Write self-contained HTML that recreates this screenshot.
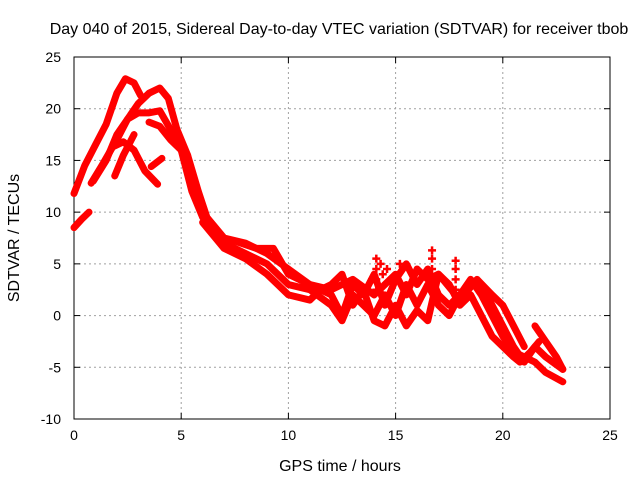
<!DOCTYPE html>
<html><head><meta charset="utf-8"><style>
body{margin:0;background:#fff}
svg{display:block;font-family:"Liberation Sans",sans-serif}
</style></head><body>
<svg id="chart" width="640" height="480">
<rect width="640" height="480" fill="#fff"/>
<g id="grid"></g><g id="axes"></g><g id="series"></g>
<text x="339" y="34" font-size="16" text-anchor="middle">Day 040 of 2015, Sidereal Day-to-day VTEC variation (SDTVAR) for receiver tbob</text>
<text x="340" y="471" font-size="16" text-anchor="middle">GPS time / hours</text>
<text x="19" y="238" font-size="16" text-anchor="middle" transform="rotate(-90 19 238)">SDTVAR / TECUs</text>
</svg>
<script>
const xTicks=[0,5,10,15,20,25];
const yTicks=[-10,-5,0,5,10,15,20,25];
const traceA=[[0,11.8],[0.5,14.5],[1,16.5],[1.5,18.5],[2,21.5],[2.4,22.9],[2.8,22.5],[3.1,21.3]];
const traceB=[[0.9,13],[1.5,15],[2,17.5],[2.5,19],[3,20.5],[3.5,21.5],[4,22],[4.4,21],[4.8,18],[5.3,15.5]];
const traceC=[[2,17],[2.5,19],[3,19.6],[3.5,19.6],[4,19.8],[4.5,18],[5,16],[5.5,12],[6,9.5]];
const traceD=[[0.8,12.8],[1.3,14.5],[1.8,16.3],[2.3,16.8],[2.8,16],[3.3,14],[3.9,12.7]];
const traceE=[[1.9,13.5],[2.3,15.5],[2.8,17.5]];
const traceF=[[0,8.5],[0.35,9.3],[0.7,10]];
const traceG=[[3.5,18.7],[4,18.3],[4.5,17],[5,16]];
const traceH=[[3.6,14.4],[4.1,15.2]];
const train1=[[5.3,15.5],[5.8,12],[6.2,9.5],[7,7.5],[8,7],[9,6],[10,4.5],[11,3],[12,2],[12.5,0],[13,3],[13.5,2],[14,4],[14.5,1],[15,3.5],[15.5,5],[16,3],[16.5,4.5],[17,2],[17.5,1],[18,2],[18.5,3],[19,3],[19.5,1],[20,-1],[20.5,-3],[21,-4.5],[21.5,-3],[22,-4],[22.8,-5.2]];
const train2=[[5,16],[5.5,14],[6,10],[7,7],[8,6],[9,5],[10,3],[11,2.5],[12,1],[12.5,-0.5],[13,2],[14,0],[14.5,2],[15,0],[15.5,3],[16,1],[16.5,3],[17,1],[17.5,0],[18,2],[18.5,3.5],[19,2],[19.5,0],[20,-2],[20.5,-3.5],[21,-4],[21.5,-4.5],[22,-5.5],[22.8,-6.4]];
const train3=[[6,9],[7,6.5],[8,5.5],[9,4],[9.5,3],[10,2],[11,1.5],[11.5,2.5],[12,3],[12.5,4],[13,1],[13.5,2.5],[14,-0.5],[14.5,-1],[15,1],[15.5,-1],[16,0.5],[16.5,-0.5],[17,4],[17.5,3],[18,1],[18.5,2],[19,0],[19.5,-2],[20,-3],[20.5,-4],[20.8,-4.5],[21.3,-3.5],[21.7,-2.5]];
const train4=[[7.5,7.2],[8.5,6.5],[9.3,6.5],[10,4],[11,3],[12,2.5],[13,3.5],[14,2],[15,4],[15.5,2],[16,4.5],[16.5,3.5],[17,4],[18,1.5],[18.8,3.5],[19.5,2],[20,1],[20.5,-1],[21,-3]];
const train5=[[21.5,-1],[22,-2.5],[22.5,-4],[22.8,-5.2]];
const spikes=[[14.1,2.5],[14.1,3.5],[14.1,4.5],[14.1,5.5],[14.3,5],[14.4,4],[16.7,3.5],[16.7,4.5],[16.7,5.5],[16.7,6.3],[17.8,2.5],[17.8,3.5],[17.8,4.5],[17.8,5.3],[14.6,4.5],[15.2,5],[13.9,3.5],[16.5,4]];
const traces=[traceA,traceB,traceC,traceD,traceE,traceF,traceG,traceH,train1,train2,train3,train4,train5];

const NS='http://www.w3.org/2000/svg';
const X0=74,X1=610,Y0=419,Y1=57;
const xs=v=>X0+(v-0)/(25-0)*(X1-X0);
const ys=v=>Y0-(v+10)/(35)*(Y0-Y1);
function mk(tag,attrs,parent){const e=document.createElementNS(NS,tag);for(const k in attrs)e.setAttribute(k,attrs[k]);parent.appendChild(e);return e;}
const grid=document.getElementById('grid'),axes=document.getElementById('axes'),ser=document.getElementById('series');
xTicks.forEach(t=>{
  const x=xs(t);
  if(t>0&&t<25){const g=mk('line',{x1:x,x2:x,y1:Y1,y2:Y0,stroke:'#a0a0a0','stroke-dasharray':'2,3'},grid);
  
  }
  mk('line',{x1:x,x2:x,y1:Y0,y2:Y0-6,stroke:'#000'},axes);
  mk('line',{x1:x,x2:x,y1:Y1,y2:Y1+6,stroke:'#000'},axes);
  const l=mk('text',{x:x,y:Y0+21,'font-size':14,'text-anchor':'middle'},axes);l.textContent=t;
  
  
});
yTicks.forEach(t=>{
  const y=ys(t);
  if(t>-10&&t<25){const g=mk('line',{x1:X0,x2:X1,y1:y,y2:y,stroke:'#a0a0a0','stroke-dasharray':'2,3'},grid);
  
  }
  mk('line',{x1:X0,x2:X0+6,y1:y,y2:y,stroke:'#000'},axes);
  mk('line',{x1:X1,x2:X1-6,y1:y,y2:y,stroke:'#000'},axes);
  const l=mk('text',{x:X0-13,y:y+5,'font-size':14,'text-anchor':'end'},axes);l.textContent=t;
  
  
});
const frame=mk('rect',{x:X0,y:Y1,width:X1-X0,height:Y0-Y1,fill:'none',stroke:'#000'},axes);


traces.forEach(tr=>{
  const p=mk('polyline',{points:tr.map(d=>xs(d[0])+','+ys(d[1])).join(' '),fill:'none',stroke:'#f00','stroke-width':7,'stroke-linejoin':'round','stroke-linecap':'round'},ser);
  
  
});
spikes.forEach(d=>{
  const x=xs(d[0]),y=ys(d[1]);
  const p=mk('path',{d:`M${x-4},${y}H${x+4}M${x},${y-4}V${y+4}`,stroke:'#f00','stroke-width':2.5},ser);
  
  
});
</script>
</body></html>
